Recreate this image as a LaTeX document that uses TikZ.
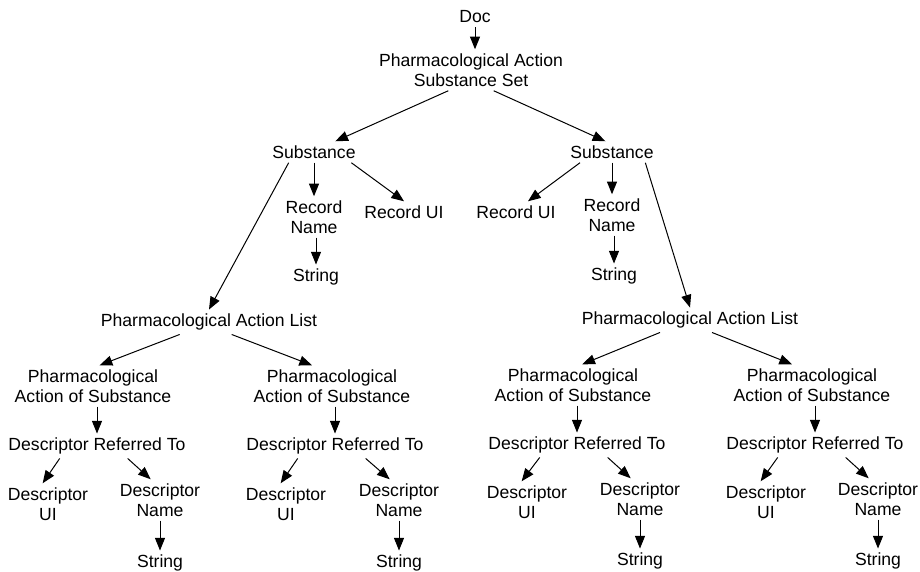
\documentclass[tikz,border=0pt]{standalone}
\usepackage{fontspec}
\setmainfont{Liberation Sans}
\usetikzlibrary{arrows.meta}
\tikzset{
  lbl/.style={align=center, inner sep=3pt},
  arr/.style={-{Triangle[length=9.5pt,width=7.5pt]}, line width=0.75pt},
}
\begin{document}
\begin{tikzpicture}[x=0.75pt,y=-0.75pt,font=\fontsize{13.2}{15}\selectfont]
\useasboundingbox (0,0) rectangle (920,571);
% top levels
\node[lbl] (doc) at (475,17) {Doc};
\node[lbl] (pass) at (471,70) {Pharmacological Action\\Substance Set};
\node[lbl] (subL) at (314,152) {Substance};
\node[lbl] (subR) at (612,152) {Substance};
\node[lbl] (rnL) at (314,217) {Record\\Name};
\node[lbl] (ruL) at (404,212) {Record UI};
\node[lbl] (strL) at (316,277) {String};
\node[lbl] (ruR) at (516,212) {Record UI};
\node[lbl] (rnR) at (612,215) {Record\\Name};
\node[lbl] (strR) at (614,276) {String};
\node[lbl] (palL) at (209,322) {Pharmacological Action List};
\node[lbl] (palR) at (690,320) {Pharmacological Action List};
% left list
\node[lbl] (pLL) at (93,386) {Pharmacological\\Action of Substance};
\node[lbl] (drtLL) at (97,446) {Descriptor Referred To};
\node[lbl] (duiLL) at (48,504) {Descriptor\\UI};
\node[lbl] (dnLL) at (160,500) {Descriptor\\Name};
\node[lbl] (sLL) at (160,563) {String};
\node[lbl] (pLR) at (332,386) {Pharmacological\\Action of Substance};
\node[lbl] (drtLR) at (335,446) {Descriptor Referred To};
\node[lbl] (duiLR) at (286,504) {Descriptor\\UI};
\node[lbl] (dnLR) at (399,500) {Descriptor\\Name};
\node[lbl] (sLR) at (399,563) {String};
% right list
\node[lbl] (pRL) at (573,385) {Pharmacological\\Action of Substance};
\node[lbl] (drtRL) at (577,445) {Descriptor Referred To};
\node[lbl] (duiRL) at (527,502) {Descriptor\\UI};
\node[lbl] (dnRL) at (640,499) {Descriptor\\Name};
\node[lbl] (sRL) at (640,561) {String};
\node[lbl] (pRR) at (812,385) {Pharmacological\\Action of Substance};
\node[lbl] (drtRR) at (815,445) {Descriptor Referred To};
\node[lbl] (duiRR) at (766,502) {Descriptor\\UI};
\node[lbl] (dnRR) at (878,499) {Descriptor\\Name};
\node[lbl] (sRR) at (878,561) {String};
% arrows
\draw[arr] (doc) -- (doc |- pass.north);
\draw[arr] ([xshift=-17pt]pass.south) -- ([xshift=16pt]subL.north);
\draw[arr] ([xshift=17pt]pass.south) -- ([xshift=-5pt]subR.north);
\draw[arr] (rnL.north |- subL.south) -- (rnL.north);
\draw[arr] ([xshift=28pt]subL.south) -- (ruL.north);
\draw[arr] ([xshift=-19pt]subL.south) -- (palL.north);
\draw[arr] (strL.north |- rnL.south) -- (strL.north);
\draw[arr] ([xshift=-24pt]subR.south) -- ([xshift=9pt]ruR.north);
\draw[arr] (rnR.north |- subR.south) -- (rnR.north);
\draw[arr] ([xshift=25pt]subR.south) -- (palR.north);
\draw[arr] (strR.north |- rnR.south) -- (strR.north);
\draw[arr] ([xshift=-22pt]palL.south) -- ([xshift=5pt]pLL.north);
\draw[arr] ([xshift=17pt]palL.south) -- ([xshift=-15pt]pLR.north);
\draw[arr] ([xshift=-22.5pt]palR.south) -- ([xshift=7pt]pRL.north);
\draw[arr] ([xshift=16.5pt]palR.south) -- ([xshift=-15pt]pRR.north);
\draw[arr] (pLL.south -| drtLL) -- (drtLL.north);
\draw[arr] (pLR.south -| drtLR) -- (drtLR.north);
\draw[arr] (pRL.south -| drtRL) -- (drtRL.north);
\draw[arr] (pRR.south -| drtRR) -- (drtRR.north);
\draw[arr] ([xshift=-28pt]drtLL.south) -- ([xshift=-4pt]duiLL.north);
\draw[arr] ([xshift=23pt]drtLL.south) -- ([xshift=-7pt]dnLL.north);
\draw[arr] ([xshift=-28pt]drtLR.south) -- ([xshift=-4pt]duiLR.north);
\draw[arr] ([xshift=23pt]drtLR.south) -- ([xshift=-7pt]dnLR.north);
\draw[arr] ([xshift=-28pt]drtRL.south) -- ([xshift=-4pt]duiRL.north);
\draw[arr] ([xshift=23pt]drtRL.south) -- ([xshift=-7pt]dnRL.north);
\draw[arr] ([xshift=-28pt]drtRR.south) -- ([xshift=-4pt]duiRR.north);
\draw[arr] ([xshift=23pt]drtRR.south) -- ([xshift=-7pt]dnRR.north);
\draw[arr] (dnLL) -- (sLL);
\draw[arr] (dnLR) -- (sLR);
\draw[arr] (dnRL) -- (sRL);
\draw[arr] (dnRR) -- (sRR);
\end{tikzpicture}
\end{document}
